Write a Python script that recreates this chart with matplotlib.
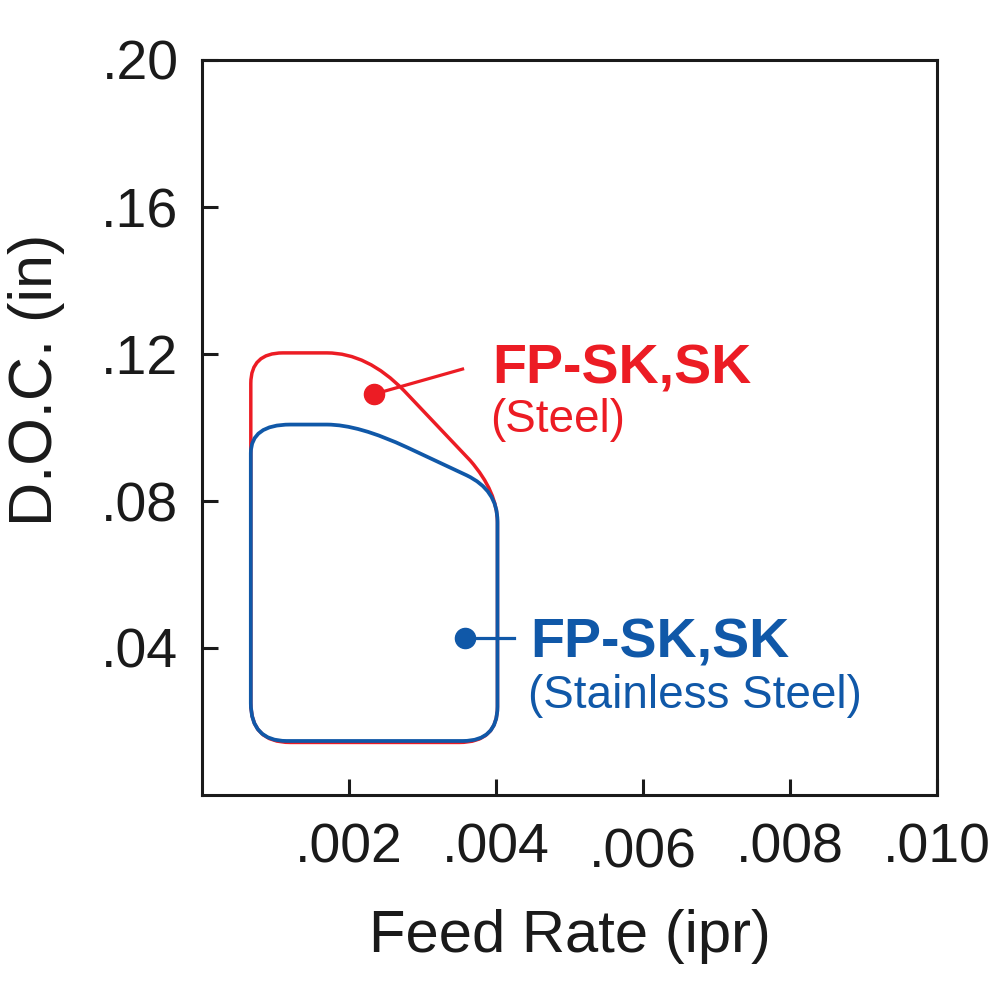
import matplotlib
matplotlib.use("Agg")
import matplotlib.pyplot as plt
from matplotlib.path import Path
from matplotlib.patches import PathPatch
import matplotlib.transforms as mtransforms

plt.rcParams['font.family'] = ['Liberation Sans', 'DejaVu Sans']

# ---- data ----
x_ticks = [0.002, 0.004, 0.006, 0.008, 0.010]
x_tick_labels = ['.002', '.004', '.006', '.008', '.010']
y_ticks = [0.04, 0.08, 0.12, 0.16, 0.20]
y_tick_labels = ['.04', '.08', '.12', '.16', '.20']

# outline of the Steel region (feed, doc) with segment kinds ('M','L','Q' control+end)
steel_x = [0.000664, 0.000664, 0.000664, 0.00110, 0.00170, 0.00225, 0.00275, 0.00365,
           0.00402, 0.00402, 0.00402, 0.00402, 0.00350, 0.00120, 0.000664, 0.000664]
steel_y = [0.0300, 0.1120, 0.1203, 0.1203, 0.1203, 0.1203, 0.1100, 0.0910,
           0.0825, 0.0740, 0.0240, 0.0143, 0.0143, 0.0143, 0.0143, 0.0250]
steel_kind = ['M', 'L', 'Q', 'Q', 'L', 'Q', 'Q', 'L',
              'Q', 'Q', 'L', 'Q', 'Q', 'L', 'Q', 'Q']

# outline of the Stainless Steel region
stainless_x = [0.000664, 0.000664, 0.000664, 0.00120, 0.00170, 0.00213, 0.00280, 0.00360,
               0.00402, 0.00402, 0.00402, 0.00402, 0.00355, 0.00115, 0.000664, 0.000664]
stainless_y = [0.0300, 0.0930, 0.1008, 0.1008, 0.1008, 0.1008, 0.0945, 0.0870,
               0.0830, 0.0745, 0.0240, 0.0147, 0.0147, 0.0147, 0.0147, 0.0250]
stainless_kind = ['M', 'L', 'Q', 'Q', 'L', 'Q', 'Q', 'L',
                  'Q', 'Q', 'L', 'Q', 'Q', 'L', 'Q', 'Q']

steel_dot = (0.002345, 0.1091)
steel_leader_end = (0.003545, 0.1159)
stainless_dot = (0.003585, 0.0427)
stainless_leader_end = (0.00424, 0.0427)

RED = '#EC1C24'
BLUE = '#1058A8'
INK = '#1a1a1a'


def make_path(xs, ys, kinds):
    codes = []
    for k in kinds:
        codes.append({'M': Path.MOVETO, 'L': Path.LINETO, 'Q': Path.CURVE3}[k])
    verts = list(zip(xs, ys)) + [(xs[0], ys[0])]
    codes.append(Path.CLOSEPOLY)
    return Path(verts, codes)


fig = plt.figure(figsize=(10, 10), dpi=100)
ax = fig.add_axes([0.202, 0.205, 0.735, 0.735])
ax.set_xlim(0, 0.010)
ax.set_ylim(0, 0.20)

ax.add_patch(PathPatch(make_path(steel_x, steel_y, steel_kind), facecolor='none',
                       edgecolor=RED, lw=2.5, zorder=2))
ax.add_patch(PathPatch(make_path(stainless_x, stainless_y, stainless_kind), facecolor='none',
                       edgecolor=BLUE, lw=2.7, zorder=3))

# leaders
ax.plot([steel_dot[0], steel_leader_end[0]], [steel_dot[1], steel_leader_end[1]],
        color=RED, lw=2.3, zorder=4)
ax.plot([steel_dot[0]], [steel_dot[1]], 'o', color=RED, ms=14.5, zorder=5)
ax.plot([stainless_dot[0], stainless_leader_end[0]], [stainless_dot[1], stainless_leader_end[1]],
        color=BLUE, lw=2.3, zorder=4)
ax.plot([stainless_dot[0]], [stainless_dot[1]], 'o', color=BLUE, ms=14.5, zorder=5)

# labels for regions
def fxy(px, py):
    return px / 1000.0, 1 - py / 1000.0

fig.text(*fxy(492, 383), 'FP-SK,SK', color=RED, fontsize=40, fontweight='bold',
         ha='left', va='baseline')
fig.text(*fxy(490, 432), '(Steel)', color=RED, fontsize=33, ha='left', va='baseline')
fig.text(*fxy(530, 658), 'FP-SK,SK', color=BLUE, fontsize=40, fontweight='bold',
         ha='left', va='baseline')
fig.text(*fxy(528, 708), '(Stainless Steel)', color=BLUE, fontsize=33, ha='left', va='baseline')

# axes styling
for s in ax.spines.values():
    s.set_linewidth(2.2)
    s.set_color(INK)
ax.set_xticks(x_ticks)
ax.set_xticklabels(x_tick_labels)
ax.set_yticks(y_ticks)
ax.set_yticklabels(y_tick_labels)
ax.tick_params(axis='both', direction='in', length=11.5, width=2.2, color=INK,
               labelsize=40, labelcolor=INK)
ax.tick_params(axis='x', pad=20)
ax.tick_params(axis='y', pad=17)
ax.tick_params(axis='y', which='both', right=False)
ax.tick_params(axis='x', which='both', top=False)

# .006 label sits a little lower in the reference
lbl = ax.get_xticklabels()[2]
lbl.set_transform(lbl.get_transform() + mtransforms.ScaledTranslation(0, -5 / 100, fig.dpi_scale_trans))

fig.text(*fxy(570, 952), 'Feed Rate (ipr)', color=INK, fontsize=43, ha='center', va='baseline')
fig.text(*fxy(37, 380), 'D.O.C. (in)', color=INK, fontsize=44, rotation=90,
         ha='center', va='center')

fig.savefig('out.png', dpi=100, facecolor='white')
